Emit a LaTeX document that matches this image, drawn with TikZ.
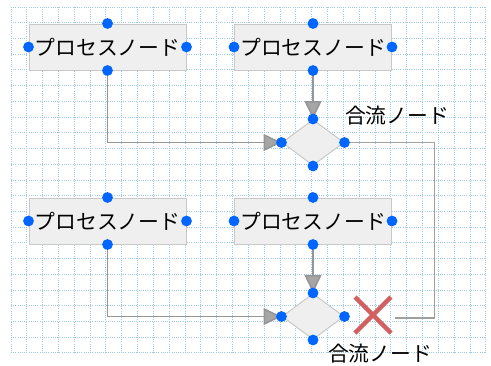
\documentclass[tikz,border=0pt]{standalone}
\usepackage{fontspec}
\newfontfamily\jpfont{Noto Sans CJK JP}
\usetikzlibrary{shapes.geometric,arrows.meta,calc}
\definecolor{gridblue}{RGB}{160,200,232}
\definecolor{boxfill}{RGB}{239,239,239}
\definecolor{boxline}{RGB}{200,200,200}
\definecolor{dotblue}{RGB}{0,102,255}
\definecolor{linegray}{RGB}{150,150,150}
\definecolor{xred}{RGB}{210,96,96}
\tikzset{
  procbox/.style={rectangle, fill=boxfill, draw=boxline, line width=1pt,
    minimum width=157pt, minimum height=46pt, inner sep=0pt,
    font=\jpfont\fontsize{20.8}{21}\selectfont},
  mergebox/.style={diamond, fill=boxfill, draw=boxline, line width=1pt,
    minimum width=62pt, minimum height=46pt, inner sep=0pt},
  lbl/.style={font=\jpfont\fontsize{20.8}{21}\selectfont, inner sep=0pt},
  conn/.style={draw=linegray, line width=1.6pt},
  arr/.style={conn, -{Triangle[length=18pt,width=17pt,fill=linegray!85!white]}},
  thinconn/.style={draw=linegray!90!white, line width=1.2pt},
  handle/.style={fill=dotblue},
  gridline/.style={draw=gridblue, line width=1pt, dash pattern=on 1pt off 1.2pt}
}
\begin{document}
\begin{tikzpicture}[x=1pt,y=-1pt]
\useasboundingbox (0,0) rectangle (491,365);
% grid
\foreach \k in {0,...,30} {
  \draw[gridline] ({11+15.83*\k},7) -- ({11+15.83*\k},353);
}
\foreach \k in {0,...,22} {
  \draw[gridline] (11,{7+15.727*\k}) -- (486,{7+15.727*\k});
}
% nodes
\node[procbox] (p1) at (107.5,47) {プロセスノード};
\node[procbox] (p2) at (313,47) {プロセスノード};
\node[procbox] (p3) at (107.5,221) {プロセスノード};
\node[procbox] (p4) at (313,221) {プロセスノード};
\node[mergebox] (d1) at (313,142.5) {};
\node[mergebox] (d2) at (313,316.5) {};
\node[lbl] (l1) at (397,116) {合流ノード};
\node[lbl] (l2) at (380,354) {合流ノード};
\coordinate (xend) at (395,318);
\coordinate (xc) at (373,315);
% connectors
\draw[arr] (p2.south) -- (d1.north);
\draw[arr] (p4.south) -- (d2.north);
\draw[arr] (p1.south) |- (d1.west);
\draw[arr] (p3.south) |- (d2.west);
\draw[thinconn] (d1.east) -- ++(90,0) |- (xend);
% red X
\draw[xred, line width=4.5pt] ($(xc)+(-18,-18)$) -- ($(xc)+(18,18)$);
\draw[xred, line width=4.5pt] ($(xc)+(18,-18)$) -- ($(xc)+(-18,18)$);
% handles
\foreach \n in {p1,p2,p3,p4,d1,d2} {
  \foreach \a in {north,south,east,west} {
    \fill[handle] (\n.\a) circle (5.4pt);
  }
}
\end{tikzpicture}
\end{document}
